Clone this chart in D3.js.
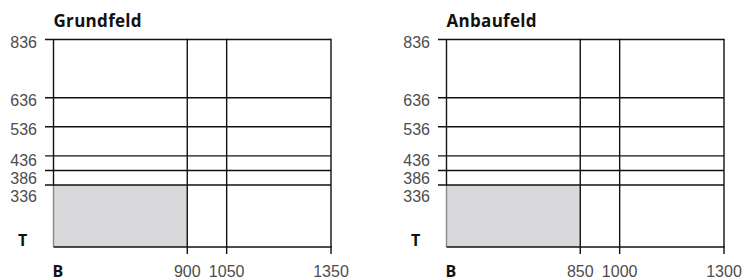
<!DOCTYPE html>
<html>
<head>
<meta charset="utf-8">
<script src="https://cdn.jsdelivr.net/npm/d3@7/dist/d3.min.js"></script>
<style>
  html, body { margin: 0; padding: 0; background: #fff; }
  svg { display: block; }
</style>
</head>
<body>
<svg id="chart" width="743" height="280"></svg>
<script>
// ---------- data ----------
const panelTitles = ["Grundfeld", "Anbaufeld"];
const depthTicks = [836, 636, 536, 436, 386, 336];
const widthTicksGrund = [900, 1050, 1350];
const widthTicksAnbau = [850, 1000, 1300];
const shadedWidths = [900, 850];
const shadedDepth = 336;
const widthAxisLabel = "B";
const depthAxisLabel = "T";

// ---------- layout ----------
const svg = d3.select("#chart");
const panelLeft = [53.5, 446.5];
const panelW = 277.5;
const colFrac = [0, 0.482, 0.624, 1];   // schematic column breaks
const topY = 39.5, lowLineY = 185, bottomY = 247;
const tickLen = 8.5;
const lineColor = "#111";
const lw = 1.4;
const labelGap = 18;

const y = d3.scaleLinear()
  .domain([0, d3.min(depthTicks), d3.max(depthTicks)])
  .range([bottomY, lowLineY, topY]);

const widthSets = [widthTicksGrund, widthTicksAnbau];

panelTitles.forEach((title, i) => {
  const wt = widthSets[i];
  const x = d3.scaleLinear()
    .domain([0, ...wt])
    .range(colFrac.map(f => f * panelW));
  const g = svg.append("g").attr("transform", `translate(${panelLeft[i]},0)`);

  // shaded area
  g.append("rect")
    .attr("x", x(0)).attr("y", y(shadedDepth))
    .attr("width", x(shadedWidths[i]) - x(0))
    .attr("height", y(0) - y(shadedDepth))
    .attr("fill", "#d9d9db");
  g.append("line")
    .attr("x1", x(0)).attr("x2", x(0))
    .attr("y1", y(shadedDepth)).attr("y2", y(0))
    .attr("stroke", "#8a8a8a").attr("stroke-width", lw);

  // left border (above shaded)
  g.append("line")
    .attr("x1", x(0)).attr("x2", x(0))
    .attr("y1", y(d3.max(depthTicks))).attr("y2", y(shadedDepth))
    .attr("stroke", lineColor).attr("stroke-width", lw);

  // horizontal depth lines (with left ticks)
  g.selectAll("line.h").data(depthTicks).join("line")
    .attr("class", "h")
    .attr("x1", x(0) - tickLen).attr("x2", x(d3.max(wt)))
    .attr("y1", d => y(d)).attr("y2", d => y(d))
    .attr("stroke", lineColor).attr("stroke-width", lw);

  // bottom line
  g.append("line")
    .attr("x1", x(0)).attr("x2", x(d3.max(wt)) + lw / 2)
    .attr("y1", y(0)).attr("y2", y(0))
    .attr("stroke", lineColor).attr("stroke-width", lw);

  // vertical width lines (with bottom ticks)
  g.selectAll("line.v").data(wt).join("line")
    .attr("class", "v")
    .attr("x1", d => x(d)).attr("x2", d => x(d))
    .attr("y1", y(d3.max(depthTicks)) - lw / 2).attr("y2", y(0) + 7)
    .attr("stroke", lineColor).attr("stroke-width", lw);

  // depth labels: clustered lines get stacked downward from the lowest one
  const sorted = depthTicks.slice().sort((a, b) => a - b); // bottom first
  const pos = {};
  sorted.forEach((d, k) => {
    const ly = y(d);
    if (k === 0) {
      const next = sorted[1];
      pos[d] = (next !== undefined && ly - y(next) < labelGap) ? ly + 11 : ly + 2.5;
    } else {
      const below = sorted[k - 1];
      pos[d] = (y(below) - ly < labelGap) ? pos[below] - labelGap : Math.min(ly + 2.5, pos[below] - labelGap);
    }
  });
  g.selectAll("text.dl").data(depthTicks).join("text")
    .attr("class", "dl")
    .attr("x", x(0) - 16.5)
    .attr("y", d => pos[d])
    .attr("dy", "0.36em")
    .attr("text-anchor", "end")
    .attr("font-family", "Liberation Sans, Arial, sans-serif")
    .attr("font-size", 16)
    .attr("fill", "#4d4d4d")
    .text(d => d);

  // width labels
  g.selectAll("text.wl").data(wt).join("text")
    .attr("class", "wl")
    .attr("x", d => x(d))
    .attr("y", 276.5)
    .attr("text-anchor", "middle")
    .attr("font-family", "Liberation Sans, Arial, sans-serif")
    .attr("font-size", 16)
    .attr("fill", "#4d4d4d")
    .text(d => d);

  // axis letters
  g.append("text")
    .attr("x", x(0) - 1).attr("y", 276.5)
    .attr("font-family", "Open Sans, Liberation Sans, sans-serif")
    .attr("font-weight", 700).attr("font-size", 16)
    .attr("fill", "#111")
    .text(widthAxisLabel);
  g.append("text")
    .attr("x", x(0) - 31).attr("y", y(0) - 1)
    .attr("text-anchor", "middle")
    .attr("font-family", "Open Sans, Liberation Sans, sans-serif")
    .attr("font-weight", 700).attr("font-size", 16)
    .attr("fill", "#111")
    .text(depthAxisLabel);

  // title
  g.append("text")
    .attr("x", x(0)).attr("y", 27)
    .attr("font-family", "Open Sans, Liberation Sans, sans-serif")
    .attr("font-weight", 700).attr("font-size", 17)
    .attr("letter-spacing", 0.3)
    .attr("fill", "#111")
    .text(title);
});
</script>
</body>
</html>
